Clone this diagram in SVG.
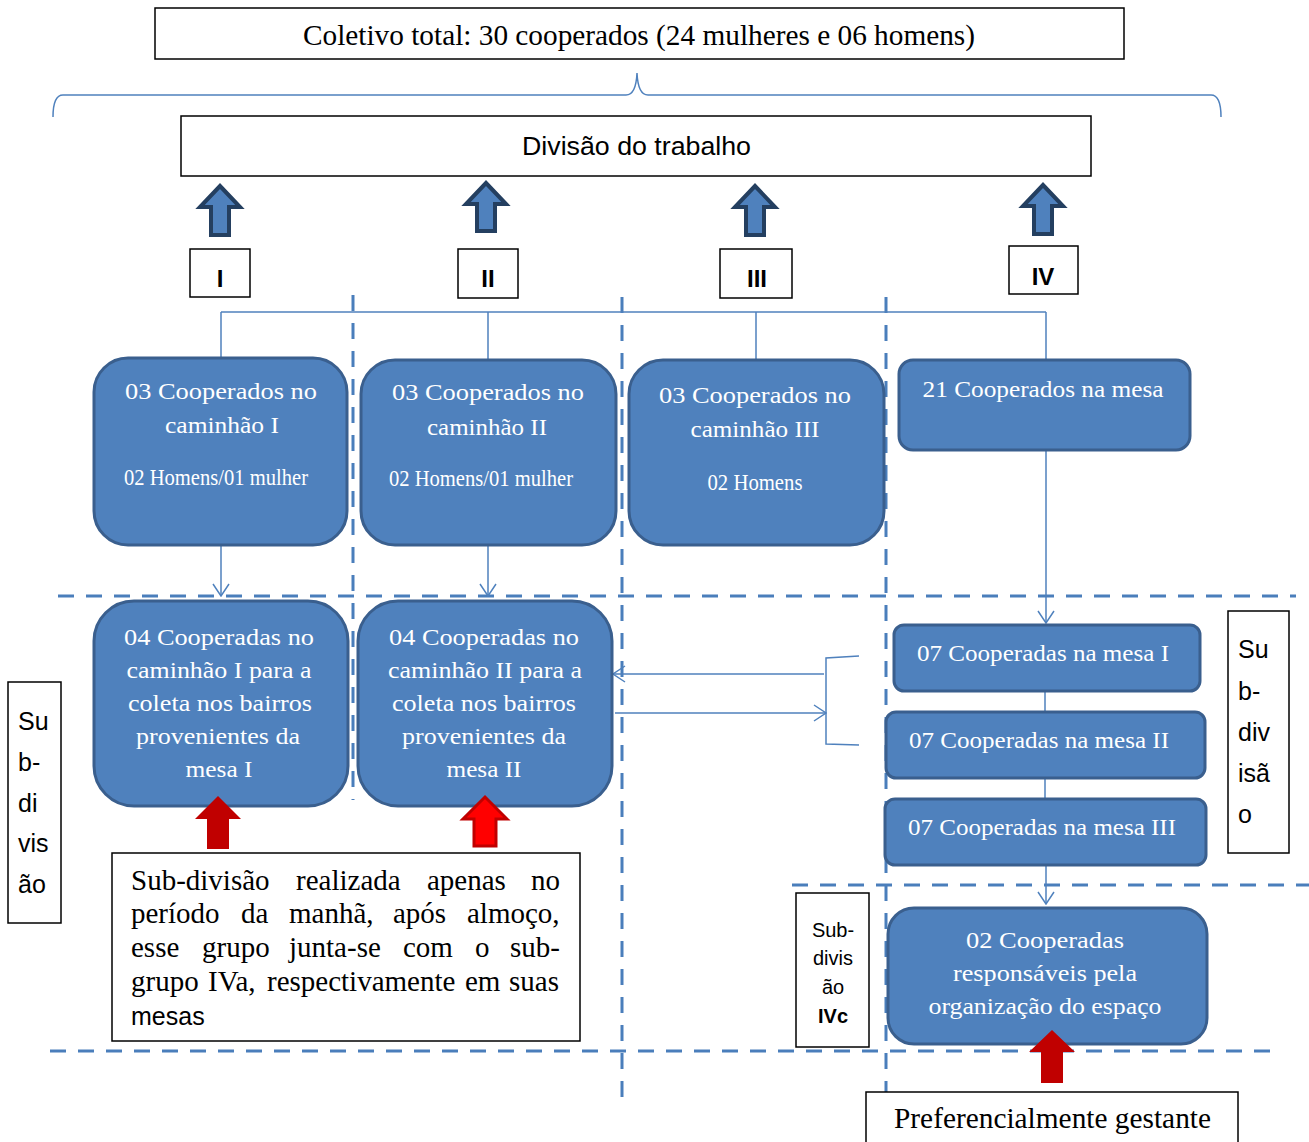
<svg xmlns="http://www.w3.org/2000/svg" width="1309" height="1142" viewBox="0 0 1309 1142">
<style>
.bx{fill:#fff;stroke:#000;stroke-width:1.5}
.nd{fill:#4f81bd;stroke:#3a5f8e;stroke-width:3}
.wt{font-family:"Liberation Serif","Times New Roman",serif;fill:#fff;font-size:24px;text-anchor:middle}
.st{font-family:"Liberation Serif","Times New Roman",serif;fill:#000;font-size:29px}
.ss{font-family:"Liberation Sans",Arial,sans-serif;fill:#000}
.dash{stroke:#4a7ebb;stroke-width:3;stroke-dasharray:16 12;fill:none}
.cn{stroke:#4f81bd;stroke-width:1.5;fill:none}
.ba{fill:#4f81bd;stroke:#243f60;stroke-width:4;stroke-linejoin:miter}
</style>
<defs>
<marker id="ah" markerUnits="userSpaceOnUse" markerWidth="14" markerHeight="18" viewBox="0 0 14 18" refX="13" refY="9" orient="auto">
<path d="M1,1 L13,9 L1,17" fill="none" stroke="#4f81bd" stroke-width="1.5"/>
</marker>
</defs>
<rect width="1309" height="1142" fill="#fff"/>

<g id="dashed-lines">
<line class="dash" x1="353" y1="295" x2="353" y2="800"/>
<line class="dash" x1="622" y1="297" x2="622" y2="1106"/>
<line class="dash" x1="886" y1="297" x2="886" y2="1142"/>
<line class="dash" x1="58" y1="596" x2="1296" y2="596"/>
<line class="dash" x1="792" y1="885" x2="1309" y2="885"/>
<line class="dash" x1="50" y1="1051" x2="1272" y2="1051"/>
</g>

<g id="title">
<rect class="bx" x="155" y="8" width="969" height="51"/>
<text class="st" x="303" y="45" font-size="30" textLength="672" lengthAdjust="spacingAndGlyphs">Coletivo total: 30 cooperados (24 mulheres e 06 homens)</text>
</g>
<g id="brace">
<path class="cn" stroke-width="2" d="M53,117 Q53,95 63,95 L626,95 Q636,95 637,73 Q638,95 648,95 L1211,95 Q1221,95 1221,117"/>
</g>
<g id="divisao">
<rect class="bx" x="181" y="116" width="910" height="60"/>
<text class="ss" x="522" y="155" font-size="26" textLength="229" lengthAdjust="spacingAndGlyphs">Divisão do trabalho</text>
</g>

<g id="up-arrows">
<path class="ba" d="M220,186 L240,207 L229,207 L229,235 L211,235 L211,207 L200,207 Z"/>
<path class="ba" d="M486,183 L506,204 L495,204 L495,231 L477,231 L477,204 L466,204 Z"/>
<path class="ba" d="M755,186 L775,207 L764,207 L764,235 L746,235 L746,207 L735,207 Z"/>
<path class="ba" d="M1043,185 L1063,206 L1052,206 L1052,234 L1034,234 L1034,206 L1023,206 Z"/>
</g>

<g id="label-I"><rect class="bx" x="190" y="249" width="60" height="48"/><text class="ss" x="220" y="287" font-size="24" font-weight="bold" text-anchor="middle">I</text></g>
<g id="label-II"><rect class="bx" x="458" y="249" width="60" height="49"/><text class="ss" x="488" y="287" font-size="24" font-weight="bold" text-anchor="middle">II</text></g>
<g id="label-III"><rect class="bx" x="720" y="249" width="72" height="49"/><text class="ss" x="757" y="287" font-size="24" font-weight="bold" text-anchor="middle">III</text></g>
<g id="label-IV"><rect class="bx" x="1009" y="246" width="69" height="48"/><text class="ss" x="1043" y="285" font-size="24" font-weight="bold" text-anchor="middle">IV</text></g>

<g id="connectors">
<line class="cn" x1="221" y1="312" x2="1046" y2="312"/>
<line class="cn" x1="221" y1="312" x2="221" y2="358"/>
<line class="cn" x1="488" y1="312" x2="488" y2="360"/>
<line class="cn" x1="756" y1="312" x2="756" y2="360"/>
<line class="cn" x1="1046" y1="312" x2="1046" y2="360"/>
<line class="cn" x1="221" y1="545" x2="221" y2="596" marker-end="url(#ah)"/>
<line class="cn" x1="488" y1="545" x2="488" y2="596" marker-end="url(#ah)"/>
<line class="cn" x1="1046" y1="450" x2="1046" y2="623" marker-end="url(#ah)"/>
<line class="cn" x1="1045" y1="691" x2="1045" y2="712"/>
<line class="cn" x1="1045" y1="778" x2="1045" y2="799"/>
<line class="cn" x1="1046" y1="865" x2="1046" y2="904" marker-end="url(#ah)"/>
<path class="cn" d="M859,656 L826,658 L826,744 L859,745"/>
<line class="cn" x1="824" y1="674" x2="613" y2="674" marker-end="url(#ah)"/>
<line class="cn" x1="615" y1="713" x2="826" y2="713" marker-end="url(#ah)"/>
</g>

<g id="node-caminhao-I">
<rect class="nd" x="94" y="358" width="253" height="187" rx="34"/>
<text class="wt" x="221" y="399" textLength="192" lengthAdjust="spacingAndGlyphs">03 Cooperados no</text>
<text class="wt" x="222" y="433" textLength="114" lengthAdjust="spacingAndGlyphs">caminhão I</text>
<text class="wt" x="216" y="485" font-size="19" textLength="184" lengthAdjust="spacingAndGlyphs">02 Homens/01 mulher</text>
</g>
<g id="node-caminhao-II">
<rect class="nd" x="361" y="360" width="255" height="185" rx="34"/>
<text class="wt" x="488" y="400" textLength="192" lengthAdjust="spacingAndGlyphs">03 Cooperados no</text>
<text class="wt" x="487" y="435" textLength="120" lengthAdjust="spacingAndGlyphs">caminhão II</text>
<text class="wt" x="481" y="486" font-size="19" textLength="184" lengthAdjust="spacingAndGlyphs">02 Homens/01 mulher</text>
</g>
<g id="node-caminhao-III">
<rect class="nd" x="629" y="360" width="255" height="185" rx="34"/>
<text class="wt" x="755" y="403" textLength="192" lengthAdjust="spacingAndGlyphs">03 Cooperados no</text>
<text class="wt" x="755" y="437" textLength="129" lengthAdjust="spacingAndGlyphs">caminhão III</text>
<text class="wt" x="755" y="490" font-size="19" textLength="95" lengthAdjust="spacingAndGlyphs">02 Homens</text>
</g>
<g id="node-mesa">
<rect class="nd" x="899" y="360" width="291" height="90" rx="14"/>
<text class="wt" x="1043" y="397" textLength="241" lengthAdjust="spacingAndGlyphs">21 Cooperados na mesa</text>
</g>

<g id="node-coleta-I">
<rect class="nd" x="94" y="601" width="254" height="205" rx="40"/>
<text class="wt" x="219" y="645" textLength="190" lengthAdjust="spacingAndGlyphs">04 Cooperadas no</text>
<text class="wt" x="219" y="678" textLength="185" lengthAdjust="spacingAndGlyphs">caminhão I para a</text>
<text class="wt" x="220" y="711" textLength="184" lengthAdjust="spacingAndGlyphs">coleta nos bairros</text>
<text class="wt" x="218" y="744" textLength="164" lengthAdjust="spacingAndGlyphs">provenientes da</text>
<text class="wt" x="219" y="777" textLength="67" lengthAdjust="spacingAndGlyphs">mesa I</text>
</g>
<g id="node-coleta-II">
<rect class="nd" x="358" y="601" width="254" height="205" rx="40"/>
<text class="wt" x="484" y="645" textLength="190" lengthAdjust="spacingAndGlyphs">04 Cooperadas no</text>
<text class="wt" x="485" y="678" textLength="194" lengthAdjust="spacingAndGlyphs">caminhão II para a</text>
<text class="wt" x="484" y="711" textLength="184" lengthAdjust="spacingAndGlyphs">coleta nos bairros</text>
<text class="wt" x="484" y="744" textLength="164" lengthAdjust="spacingAndGlyphs">provenientes da</text>
<text class="wt" x="484" y="777" textLength="75" lengthAdjust="spacingAndGlyphs">mesa II</text>
</g>

<g id="node-mesa-I">
<rect class="nd" x="894" y="625" width="306" height="66" rx="10"/>
<text class="wt" x="1043" y="661" textLength="252" lengthAdjust="spacingAndGlyphs">07 Cooperadas na mesa I</text>
</g>
<g id="node-mesa-II">
<rect class="nd" x="886" y="712" width="319" height="66" rx="10"/>
<text class="wt" x="1039" y="748" textLength="260" lengthAdjust="spacingAndGlyphs">07 Cooperadas na mesa II</text>
</g>
<g id="node-mesa-III">
<rect class="nd" x="885" y="799" width="321" height="66" rx="10"/>
<text class="wt" x="1042" y="835" textLength="268" lengthAdjust="spacingAndGlyphs">07 Cooperadas na mesa III</text>
</g>
<g id="node-organizacao">
<rect class="nd" x="888" y="908" width="319" height="136" rx="26"/>
<text class="wt" x="1045" y="948" textLength="158" lengthAdjust="spacingAndGlyphs">02 Cooperadas</text>
<text class="wt" x="1045" y="981" textLength="184" lengthAdjust="spacingAndGlyphs">responsáveis pela</text>
<text class="wt" x="1045" y="1014" textLength="233" lengthAdjust="spacingAndGlyphs">organização do espaço</text>
</g>

<g id="red-arrows">
<path fill="#c00000" d="M218,796 L241,819 L229,819 L229,849 L207,849 L207,819 L195,819 Z"/>
<path fill="#ff0000" stroke="#c00000" stroke-width="3" d="M485,797 L507,819 L496,819 L496,846 L474,846 L474,819 L463,819 Z"/>
<path fill="#c00000" d="M1052,1030 L1075,1052 L1063,1052 L1063,1083 L1041,1083 L1041,1052 L1029,1052 Z"/>
</g>

<g id="note-subdivisao">
<rect class="bx" x="112" y="853" width="468" height="188"/>
<text class="st" y="890"><tspan x="131">Sub-divisão</tspan><tspan x="296">realizada</tspan><tspan x="427">apenas</tspan><tspan x="531">no</tspan></text>
<text class="st" y="923"><tspan x="131">período</tspan><tspan x="241">da</tspan><tspan x="289">manhã,</tspan><tspan x="393">após</tspan><tspan x="467">almoço,</tspan></text>
<text class="st" y="957"><tspan x="131">esse</tspan><tspan x="202">grupo</tspan><tspan x="289">junta-se</tspan><tspan x="403">com</tspan><tspan x="475">o</tspan><tspan x="510">sub-</tspan></text>
<text class="st" y="991"><tspan x="131">grupo</tspan><tspan x="208">IVa,</tspan><tspan x="267">respectivamente</tspan><tspan x="465">em</tspan><tspan x="509">suas</tspan></text>
<text class="ss" x="131" y="1025" font-size="25">mesas</text>
</g>

<g id="label-subdivisao-left">
<rect class="bx" x="8" y="682" width="53" height="241"/>
<text class="ss" font-size="25"><tspan x="18" y="730">Su</tspan><tspan x="18" y="771">b-</tspan><tspan x="18" y="812">di</tspan><tspan x="18" y="852">vis</tspan><tspan x="18" y="893">ão</tspan></text>
</g>
<g id="label-subdivisao-right">
<rect class="bx" x="1228" y="611" width="61" height="242"/>
<text class="ss" font-size="25"><tspan x="1238" y="658">Su</tspan><tspan x="1238" y="700">b-</tspan><tspan x="1238" y="741">div</tspan><tspan x="1238" y="782">isã</tspan><tspan x="1238" y="823">o</tspan></text>
</g>
<g id="label-subdivisao-IVc">
<rect class="bx" x="796" y="893" width="73" height="154"/>
<text class="ss" font-size="20" text-anchor="middle"><tspan x="833" y="937">Sub-</tspan><tspan x="833" y="965">divis</tspan><tspan x="833" y="994">ão</tspan><tspan x="833" y="1023" font-weight="bold">IVc</tspan></text>
</g>

<g id="note-gestante">
<rect class="bx" x="866" y="1092" width="372" height="60"/>
<text class="st" x="894" y="1128" textLength="317" lengthAdjust="spacingAndGlyphs">Preferencialmente gestante</text>
</g>
</svg>
